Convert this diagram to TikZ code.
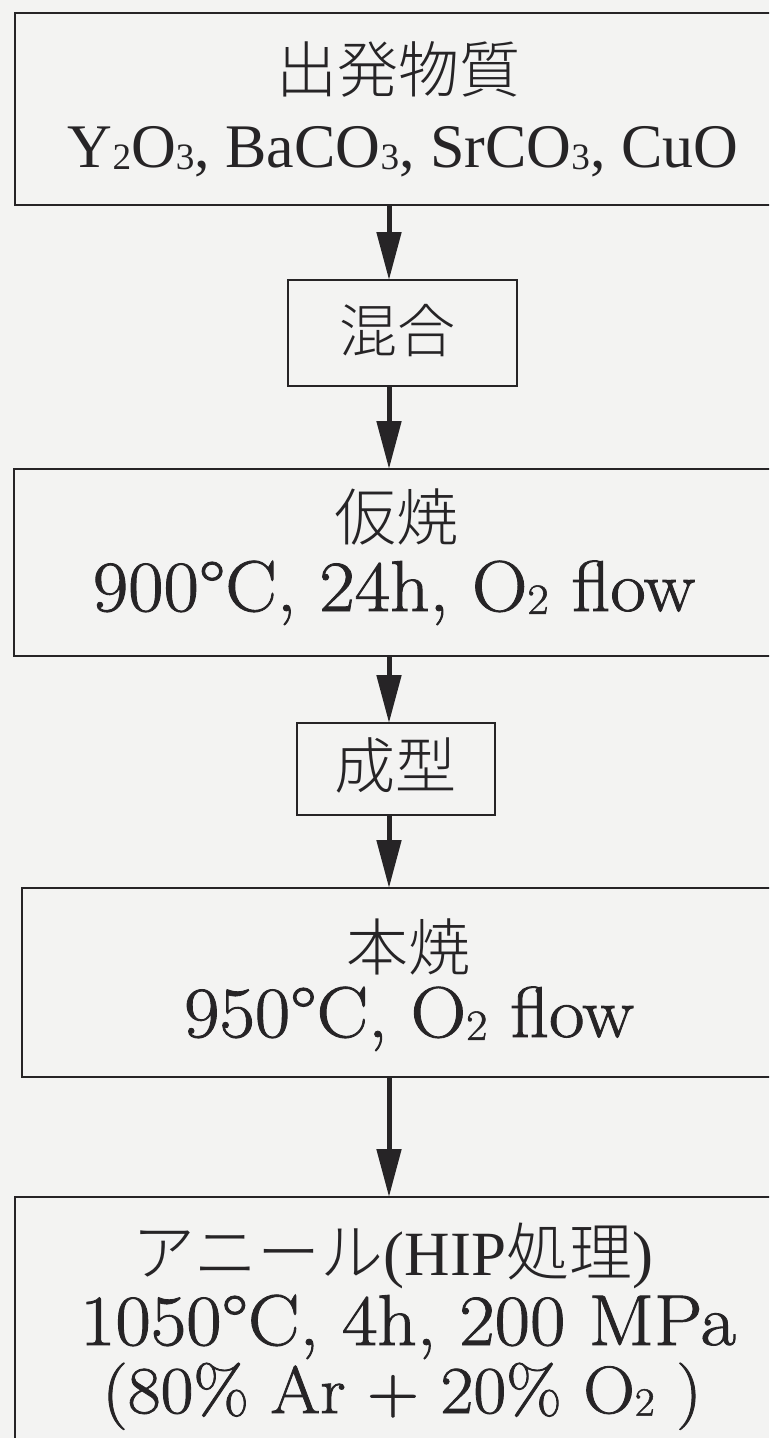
\documentclass[tikz,border=0pt]{standalone}
\usepackage{fontspec}
\setmainfont{Latin Modern Roman}
\newfontfamily\cent{Latin Modern Roman}[FakeBold=1.2]
\newfontfamily\tms{Liberation Serif}
\newfontfamily\cjk{Noto Sans CJK JP Light}
\usetikzlibrary{arrows.meta}
\definecolor{paper}{RGB}{243,243,242}
\definecolor{ink}{RGB}{38,36,38}
\newcommand\sbs[1]{\raisebox{-0.04em}{\scalebox{0.6}{#1}}}
\newcommand\fs[1]{\fontsize{#1}{#1}\selectfont}
\newcommand\wide[1]{\scalebox{1.07}[1]{#1}}
\begin{document}
\begin{tikzpicture}[x=1pt,y=-1pt,
  box/.style={draw=ink,line width=2.6pt,rectangle,inner sep=0pt,outer sep=0pt,anchor=north west},
  lbl/.style={anchor=base,inner sep=0pt,outer sep=0pt,text=ink},
  flow/.style={draw=ink,line width=5pt,-{Triangle[width=24pt,length=48pt]}}
]
\useasboundingbox (0,0) rectangle (769,1438);
\clip (0,0) rectangle (769,1438);
\fill[paper] (0,0) rectangle (769,1438);

\node[box,minimum width=770pt,minimum height=192pt] (b1) at (15,13) {};
\node[box,minimum width=229pt,minimum height=106pt] (b2) at (288,280) {};
\node[box,minimum width=772pt,minimum height=187pt] (b3) at (14,469) {};
\node[box,minimum width=198pt,minimum height=92pt] (b4) at (297,723) {};
\node[box,minimum width=768pt,minimum height=189pt] (b5) at (22,888) {};
\node[box,minimum width=770pt,minimum height=290pt] (b6) at (15,1197) {};

\node[lbl,font=\cjk\fs{61}] (t1a) at (398,92) {出発物質};
\node[lbl,font=\tms\fs{62}] (t1b) at (403,167) {Y\sbs{2}O\sbs{3}, BaCO\sbs{3}, SrCO\sbs{3}, CuO};
\node[lbl,font=\cjk\fs{58}] (t2) at (397,352) {混合};
\node[lbl,font=\cjk\fs{62}] (t3a) at (396,540) {仮焼};
\node[lbl,font=\cent\fs{72}] (t3b) at (394,611) {\wide{900°C, 24h, O\sbs{2} flow}};
\node[lbl,font=\cjk\fs{61}] (t4) at (395,788) {成型};
\node[lbl,font=\cjk\fs{62}] (t5a) at (408,970) {本焼};
\node[lbl,font=\cent\fs{72}] (t5b) at (409,1037) {\wide{950°C, O\sbs{2} flow}};
\node[lbl,font=\cjk\fs{63}] (t6a) at (393,1275) {アニール{\tms(HIP}処理{\tms)}};
\node[lbl,font=\cent\fs{72}] (t6b) at (408,1345) {\wide{1050°C, 4h, 200 MPa}};
\node[lbl,font=\cent\fs{67}] (t6c) at (402,1413) {\wide{(80\% Ar + 20\% O\sbs{2} )}};

\coordinate (ax) at (389,0);
\draw[flow] (b1.south -| ax) -- (b2.north -| ax);
\draw[flow] (b2.south -| ax) -- (b3.north -| ax);
\draw[flow] (b3.south -| ax) -- (b4.north -| ax);
\draw[flow] (b4.south -| ax) -- (b5.north -| ax);
\draw[flow] (b5.south -| ax) -- (b6.north -| ax);
\end{tikzpicture}
\end{document}
